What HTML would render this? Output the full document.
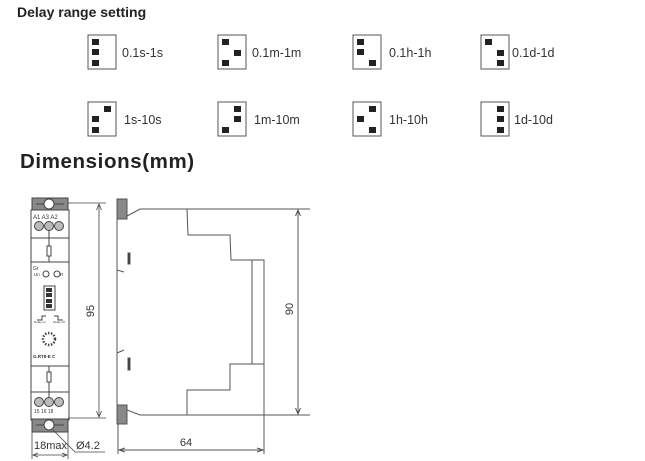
<!DOCTYPE html>
<html><head><meta charset="utf-8"><style>
html,body{margin:0;padding:0;background:#fff;}
svg{display:block;font-family:"Liberation Sans",sans-serif;}
</style></head><body>
<svg width="645" height="461" viewBox="0 0 645 461" xmlns="http://www.w3.org/2000/svg">
<text x="17" y="17" font-size="14" font-weight="bold" fill="#222">Delay range setting</text>
<text x="20" y="168" font-size="20.5" font-weight="bold" fill="#222" letter-spacing="0.6">Dimensions(mm)</text>
<g fill="#222" stroke="none">
<g transform="translate(88,35)"><rect x="0" y="0" width="28" height="34" fill="#fff" stroke="#555"/><rect x="4" y="4" width="7" height="6"/><rect x="4" y="14" width="7" height="6"/><rect x="4" y="25" width="7" height="6"/></g>
<text x="122" y="57" font-size="12.5" fill="#333">0.1s-1s</text>
<g transform="translate(218,35)"><rect x="0" y="0" width="28" height="34" fill="#fff" stroke="#555"/><rect x="4" y="4" width="7" height="6"/><rect x="16" y="15" width="7" height="6"/><rect x="4" y="25" width="7" height="6"/></g>
<text x="252" y="57" font-size="12.5" fill="#333">0.1m-1m</text>
<g transform="translate(353,35)"><rect x="0" y="0" width="28" height="34" fill="#fff" stroke="#555"/><rect x="4" y="4" width="7" height="6"/><rect x="4" y="14" width="7" height="6"/><rect x="16" y="25" width="7" height="6"/></g>
<text x="389" y="57" font-size="12.5" fill="#333">0.1h-1h</text>
<g transform="translate(481,35)"><rect x="0" y="0" width="28" height="34" fill="#fff" stroke="#555"/><rect x="4" y="4" width="7" height="6"/><rect x="16" y="15" width="7" height="6"/><rect x="16" y="25" width="7" height="6"/></g>
<text x="512" y="57" font-size="12.5" fill="#333">0.1d-1d</text>
<g transform="translate(88,102)"><rect x="0" y="0" width="28" height="34" fill="#fff" stroke="#555"/><rect x="16" y="4" width="7" height="6"/><rect x="4" y="14" width="7" height="6"/><rect x="4" y="25" width="7" height="6"/></g>
<text x="124" y="124" font-size="12.5" fill="#333">1s-10s</text>
<g transform="translate(218,102)"><rect x="0" y="0" width="28" height="34" fill="#fff" stroke="#555"/><rect x="16" y="4" width="7" height="6"/><rect x="16" y="14" width="7" height="6"/><rect x="4" y="25" width="7" height="6"/></g>
<text x="254" y="124" font-size="12.5" fill="#333">1m-10m</text>
<g transform="translate(353,102)"><rect x="0" y="0" width="28" height="34" fill="#fff" stroke="#555"/><rect x="16" y="4" width="7" height="6"/><rect x="4" y="14" width="7" height="6"/><rect x="16" y="25" width="7" height="6"/></g>
<text x="389" y="124" font-size="12.5" fill="#333">1h-10h</text>
<g transform="translate(481,102)"><rect x="0" y="0" width="28" height="34" fill="#fff" stroke="#555"/><rect x="16" y="4" width="7" height="6"/><rect x="16" y="14" width="7" height="6"/><rect x="16" y="25" width="7" height="6"/></g>
<text x="514" y="124" font-size="12.5" fill="#333">1d-10d</text>
</g>

<g stroke="#444" stroke-width="1" fill="none">
<rect x="32" y="198" width="36" height="13" fill="#888"/>
<rect x="31" y="210" width="38" height="210" fill="#fff"/>
<rect x="32" y="419" width="36" height="13" fill="#888"/>
<line x1="31" y1="238" x2="69" y2="238"/>
<line x1="31" y1="262" x2="69" y2="262"/>
<line x1="31" y1="366" x2="69" y2="366"/>
<line x1="31" y1="392" x2="69" y2="392"/>
<circle cx="49" cy="204" r="5" fill="#fff"/>
<line x1="36" y1="204" x2="44" y2="204"/><line x1="54" y1="204" x2="64" y2="204"/>
<circle cx="49" cy="425" r="5" fill="#fff"/>
<line x1="36" y1="425" x2="44" y2="425"/><line x1="54" y1="425" x2="64" y2="425"/>
<g fill="#bbb"><circle cx="39" cy="226" r="4.5"/><circle cx="49" cy="226" r="4.5"/><circle cx="59" cy="226" r="4.5"/>
<circle cx="39" cy="402" r="4.5"/><circle cx="49" cy="402" r="4.5"/><circle cx="59" cy="402" r="4.5"/></g>
<line x1="49" y1="230" x2="49" y2="246"/><rect x="47" y="246" width="4" height="10"/><line x1="49" y1="256" x2="49" y2="262"/>
<line x1="49" y1="366" x2="49" y2="372"/><rect x="47" y="372" width="4" height="10"/><line x1="49" y1="382" x2="49" y2="398"/>
<circle cx="46" cy="274" r="3"/><circle cx="57" cy="274" r="3"/>
<rect x="44" y="286" width="11" height="24"/>
<path d="M37 320 h5 v-4 h4 M54 316 h4 v4 h5"/>
<circle cx="49" cy="339" r="6" stroke-dasharray="1.5 1.5" stroke-width="2.5"/>
</g>
<g fill="#333" font-size="6">
<text x="33" y="219" font-size="6">A1 A3 A2</text>
<text x="33" y="270" font-size="5">Gr</text>
<text x="34" y="276" font-size="4.5">Un</text><text x="60" y="276" font-size="4.5">R</text>
<text x="33" y="358" font-size="4.5" font-weight="bold">G.RT8-E C</text>
<text x="34" y="413" font-size="5">15 16 18</text>
<text x="34" y="323" font-size="3">Delay on</text><text x="53" y="323" font-size="3">Delay off</text>
</g>
<g fill="#333"><rect x="46" y="288" width="6" height="4"/><rect x="46" y="293" width="6" height="4"/><rect x="46" y="299" width="6" height="4"/><rect x="46" y="304" width="6" height="4"/></g>

<g stroke="#444" stroke-width="0.8" fill="none">
<line x1="68" y1="203" x2="106" y2="203"/>
<line x1="68" y1="418" x2="106" y2="418"/>
<line x1="99" y1="204" x2="99" y2="417"/>
<path d="M96.5 210 L99 204 L101.5 210 M96.5 411 L99 417 L101.5 411"/>
<line x1="32" y1="432" x2="32" y2="459"/>
<line x1="68" y1="432" x2="68" y2="459"/>
<line x1="33" y1="455" x2="67" y2="455"/>
<path d="M38 453 L33 455 L38 457 M62 453 L67 455 L62 457"/>
<line x1="53" y1="430" x2="75" y2="452"/>
<line x1="75" y1="452" x2="105" y2="452"/>
</g>
<text x="0" y="0" font-size="11" fill="#333" transform="translate(94,311) rotate(-90)" text-anchor="middle">95</text>
<text x="34" y="449" font-size="11" fill="#333">18max</text>
<text x="76" y="449" font-size="11" fill="#333">Ø4.2</text>

<g stroke="#555" stroke-width="1" fill="none">
<rect x="117" y="199" width="10" height="20" fill="#888"/>
<rect x="117" y="405" width="10" height="19" fill="#888"/>
<path d="M127 216 L140 209 L187 209 L188 235 L230 235 L231 260 L264 260 L264 364 L230 364 L230 390 L187 390 L187 415 L140 415 L127 410"/>
<line x1="252" y1="260" x2="252" y2="364"/>
<path d="M117 219 L117 270 L124 272 M117 353 L117 405 M124 350 L117 353 M117 270 L117 353"/>
<rect x="128" y="253" width="2" height="11" fill="#333"/>
<rect x="128" y="358" width="2" height="12" fill="#333"/>
<line x1="140" y1="209" x2="310" y2="209"/>
<line x1="140" y1="415" x2="310" y2="415"/>
<line x1="298" y1="210" x2="298" y2="414"/>
<path d="M295.5 216 L298 210 L300.5 216 M295.5 408 L298 414 L300.5 408"/>
<line x1="264" y1="364" x2="264" y2="454"/>
<line x1="118" y1="424" x2="118" y2="454"/>
<line x1="119" y1="450" x2="263" y2="450"/>
<path d="M125 448 L119 450 L125 452 M257 448 L263 450 L257 452"/>
</g>
<text x="0" y="0" font-size="11" fill="#333" transform="translate(293,309) rotate(-90)" text-anchor="middle">90</text>
<text x="186" y="446" font-size="11" fill="#333" text-anchor="middle">64</text>
</svg>
</body></html>
